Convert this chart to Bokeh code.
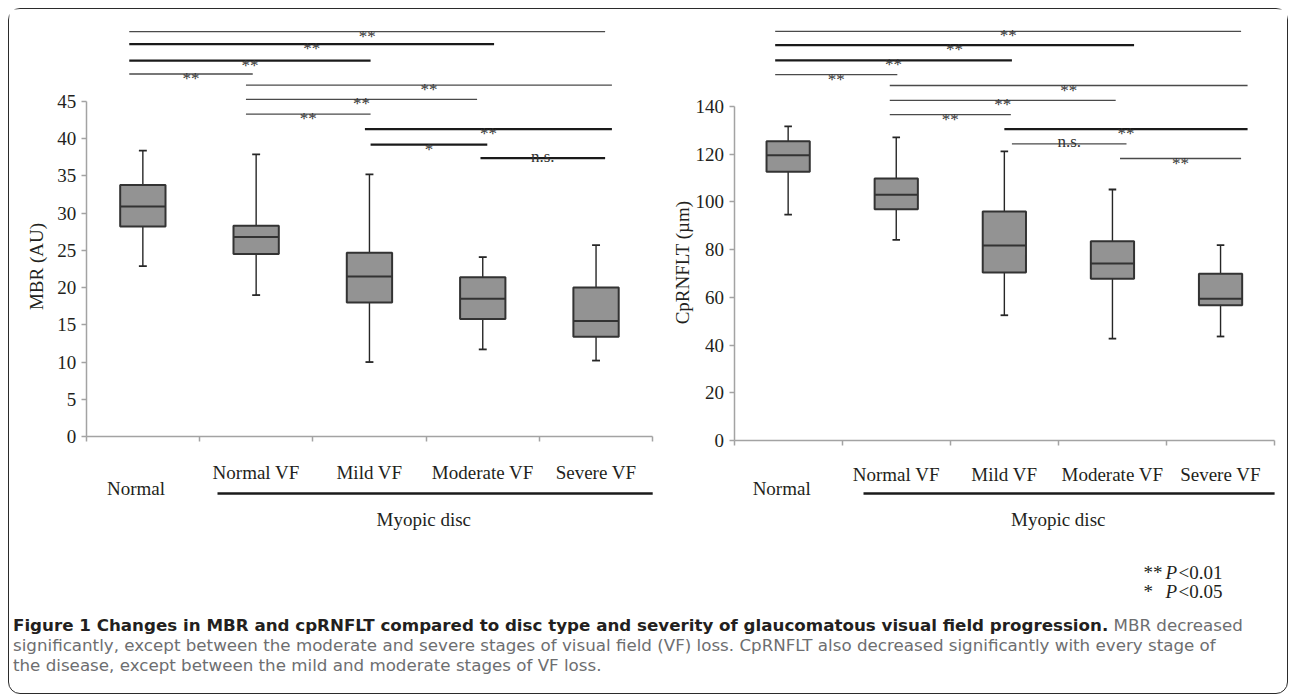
import math
from bokeh.plotting import figure
from bokeh.models import Range1d, LinearAxis, FixedTicker, Div
from bokeh.layouts import row, column
from bokeh.core.properties import value
from bokeh.embed import file_html
from bokeh.resources import INLINE

# ---------------- data ----------------
categories = ["Normal", "Normal VF", "Mild VF", "Moderate VF", "Severe VF"]
group_label = "Myopic disc"

# MBR (AU)
mbr_low = [22.9, 19.0, 10.0, 11.7, 10.2]
mbr_q1 = [28.2, 24.5, 18.0, 15.8, 13.4]
mbr_med = [30.9, 26.8, 21.5, 18.5, 15.5]
mbr_q3 = [33.8, 28.3, 24.7, 21.4, 20.0]
mbr_high = [38.4, 37.9, 35.2, 24.1, 25.7]
mbr_ticks = [0, 5, 10, 15, 20, 25, 30, 35, 40, 45]

# CpRNFLT (um)
rnfl_low = [94.7, 84.1, 52.5, 42.7, 43.6]
rnfl_q1 = [112.7, 96.9, 70.4, 67.8, 56.7]
rnfl_med = [119.6, 103.0, 81.7, 74.2, 59.4]
rnfl_q3 = [125.4, 109.8, 96.0, 83.5, 69.9]
rnfl_high = [131.7, 127.1, 121.2, 105.2, 81.9]
rnfl_ticks = [0, 20, 40, 60, 80, 100, 120, 140]

# significance brackets (category units / value units)
mbr_br_start = [0.38, 0.38, 0.38, 0.38, 1.41, 1.41, 1.41, 2.46, 2.51, 3.48]
mbr_br_end = [4.58, 3.60, 2.51, 1.47, 4.64, 3.45, 2.51, 4.64, 3.54, 4.58]
mbr_br_y = [54.4, 52.7, 50.5, 48.7, 47.2, 45.3, 43.3, 41.3, 39.2, 37.4]
mbr_br_label = ["**", "**", "**", "**", "**", "**", "**", "**", "*", "n.s."]

rnfl_br_start = [0.38, 0.38, 0.38, 0.38, 1.44, 1.44, 1.44, 2.50, 2.57, 3.57]
rnfl_br_end = [4.69, 3.70, 2.57, 1.51, 4.75, 3.53, 2.56, 4.75, 3.63, 4.69]
rnfl_br_y = [171.5, 165.7, 159.3, 153.4, 148.8, 142.6, 136.6, 130.5, 124.3, 118.2]
rnfl_br_label = ["**", "**", "**", "**", "**", "**", "**", "**", "n.s.", "**"]

legend_marks = ["**", "*"]
legend_texts = ["<0.01", "<0.05"]

caption_bold = ("Figure 1 Changes in MBR and cpRNFLT compared to disc type and "
                "severity of glaucomatous visual field progression.")
caption_lines = [
    " MBR decreased",
    "significantly, except between the moderate and severe stages of visual field (VF) loss. "
    "CpRNFLT also decreased significantly with every stage of",
    "the disease, except between the mild and moderate stages of VF loss.",
]

# ---------------- styles ----------------
SERIF = "Liberation Serif"
TXT = "#231f20"
AXIS_GREY = "#a3a3a3"
BOX_FILL = "#939393"
BOX_LINE = "#333333"
THIN = ("#4a4a4a", 1.3)
THICK = ("#1a1a1a", 2.3)
mbr_br_style = [THIN, THICK, THICK, THIN, THIN, THIN, THIN, THICK, THICK, THICK]
rnfl_br_style = [THIN, THICK, THICK, THIN, THIN, THIN, THIN, THICK, THIN, THIN]

FIG_TOP, FIG_H = 9, 596


def panel(fig_left, fig_w, ax_x, ux, ax_y, uy, ticks, low, q1, med, q3, high,
          br_s, br_e, br_y, br_lab, br_style, ytitle, ytitle_px, cat_py,
          normal_py, under_px0, legend=False):
    def dx(px):
        return (px - ax_x) / ux

    def dy(py):
        return (ax_y - py) / uy

    n = len(categories)
    p = figure(width=fig_w, height=FIG_H,
               x_range=Range1d(dx(fig_left), dx(fig_left + fig_w)),
               y_range=Range1d(dy(FIG_TOP + FIG_H), dy(FIG_TOP)),
               x_axis_type=None, y_axis_type=None,
               toolbar_location=None, output_backend="svg",
               min_border=0, outline_line_color=None)
    p.xgrid.visible = False
    p.ygrid.visible = False

    xa = LinearAxis(fixed_location=0, ticker=FixedTicker(ticks=list(range(n + 1))),
                    bounds=(0, n))
    xa.major_label_overrides = {i: "" for i in range(n + 1)}
    ya = LinearAxis(fixed_location=0, ticker=FixedTicker(ticks=ticks),
                    bounds=(0, ticks[-1]))
    for a in (xa, ya):
        a.axis_line_color = AXIS_GREY
        a.axis_line_width = 1.5
        a.major_tick_line_color = AXIS_GREY
        a.major_tick_line_width = 1.5
        a.major_tick_in = 0
        a.major_tick_out = 5
        a.minor_tick_in = 0
        a.minor_tick_out = 0
        a.major_label_text_font = SERIF
        a.major_label_text_font_size = "19px"
        a.major_label_text_color = TXT
    ya.major_label_standoff = 5
    p.add_layout(xa, "below")
    p.add_layout(ya, "left")

    xs = [i + 0.5 for i in range(n)]
    bw = 0.4
    cw = 0.07
    # whiskers
    p.segment(x0=xs, y0=q3, x1=xs, y1=high, line_color="#262626", line_width=1.4)
    p.segment(x0=xs, y0=q1, x1=xs, y1=low, line_color="#262626", line_width=1.4)
    p.segment(x0=[x - cw / 2 for x in xs], y0=high, x1=[x + cw / 2 for x in xs], y1=high,
              line_color="#262626", line_width=1.8)
    p.segment(x0=[x - cw / 2 for x in xs], y0=low, x1=[x + cw / 2 for x in xs], y1=low,
              line_color="#262626", line_width=1.8)
    # boxes
    p.vbar(x=xs, width=bw, bottom=q1, top=q3, fill_color=BOX_FILL,
           line_color=BOX_LINE, line_width=2)
    p.segment(x0=[x - bw / 2 for x in xs], y0=med, x1=[x + bw / 2 for x in xs], y1=med,
              line_color=BOX_LINE, line_width=2)

    # brackets
    p.segment(x0=br_s, y0=br_y, x1=br_e, y1=br_y,
              line_color=[s[0] for s in br_style], line_width=[s[1] for s in br_style])
    lab_y = [y + (2.0 / uy if lab == "n.s." else -4.5 / uy) for y, lab in zip(br_y, br_lab)]
    p.text(x=[(a + b) / 2 for a, b in zip(br_s, br_e)], y=lab_y, text=br_lab,
           text_font=value(SERIF), text_font_size="17px", text_color="#333333",
           text_align="center", text_baseline="alphabetic")

    # category labels
    p.text(x=xs[1:], y=[dy(cat_py)] * (n - 1), text=categories[1:],
           text_font=value(SERIF), text_font_size="19px", text_color=TXT,
           text_align="center", text_baseline="middle")
    p.text(x=[xs[0] - 0.06], y=[dy(normal_py)], text=categories[:1],
           text_font=value(SERIF), text_font_size="19px", text_color=TXT,
           text_align="center", text_baseline="middle")
    # group underline + label
    p.segment(x0=[dx(under_px0)], y0=[dy(493)], x1=[n], y1=[dy(493)],
              line_color="#1a1a1a", line_width=2.6)
    p.text(x=[(dx(under_px0) + n) / 2 - 0.1], y=[dy(519)], text=[group_label],
           text_font=value(SERIF), text_font_size="19px", text_color=TXT,
           text_align="center", text_baseline="middle")
    # y title
    p.text(x=[dx(ytitle_px[0])], y=[dy(ytitle_px[1])], text=[ytitle], angle=math.pi / 2,
           text_font=value(SERIF), text_font_size="19px", text_color=TXT,
           text_align="center", text_baseline="middle")

    if legend:
        ly = [dy(572), dy(591)]
        p.text(x=[dx(1143)] * 2, y=ly, text=legend_marks,
               text_font=value(SERIF), text_font_size="19px", text_color=TXT,
               text_align="left", text_baseline="middle")
        p.text(x=[dx(1165)] * 2, y=ly, text=["P", "P"],
               text_font=value(SERIF), text_font_style="italic", text_font_size="19px",
               text_color=TXT, text_align="left", text_baseline="middle")
        p.text(x=[dx(1178)] * 2, y=ly, text=legend_texts,
               text_font=value(SERIF), text_font_size="19px", text_color=TXT,
               text_align="left", text_baseline="middle")
    return p


p_left = panel(9, 651, 85.7, 113.3, 436.0, 7.444, mbr_ticks,
               mbr_low, mbr_q1, mbr_med, mbr_q3, mbr_high,
               mbr_br_start, mbr_br_end, mbr_br_y, mbr_br_label, mbr_br_style,
               "MBR (AU)", (36, 266), 472, 488, 217)
p_right = panel(660, 627, 733.6, 108.1, 440.0, 2.3857, rnfl_ticks,
                rnfl_low, rnfl_q1, rnfl_med, rnfl_q3, rnfl_high,
                rnfl_br_start, rnfl_br_end, rnfl_br_y, rnfl_br_label, rnfl_br_style,
                "CpRNFLT (\u00b5m)", (682, 262), 474, 488, 863, legend=True)

caption_html = (
    '<div style="font-family:\'DejaVu Sans\', sans-serif; font-size:16.7px; line-height:20px; '
    'white-space:nowrap; color:#6d6e70; padding:10px 0 0 4px;">'
    '<span style="font-weight:bold; color:#231f20;">' + caption_bold + '</span>'
    + caption_lines[0] + '<br>' + caption_lines[1] + '<br>' + caption_lines[2] + '</div>'
)
caption = Div(text=caption_html, width=1278, height=88, margin=0)

layout = column(row(p_left, p_right, spacing=0), caption, spacing=0,
                styles={"border": "1.5px solid #2b2b2b", "border-radius": "12px",
                        "background": "white", "margin": "8px 0 0 8px"})

open("out.html", "w").write(file_html(layout, INLINE))
